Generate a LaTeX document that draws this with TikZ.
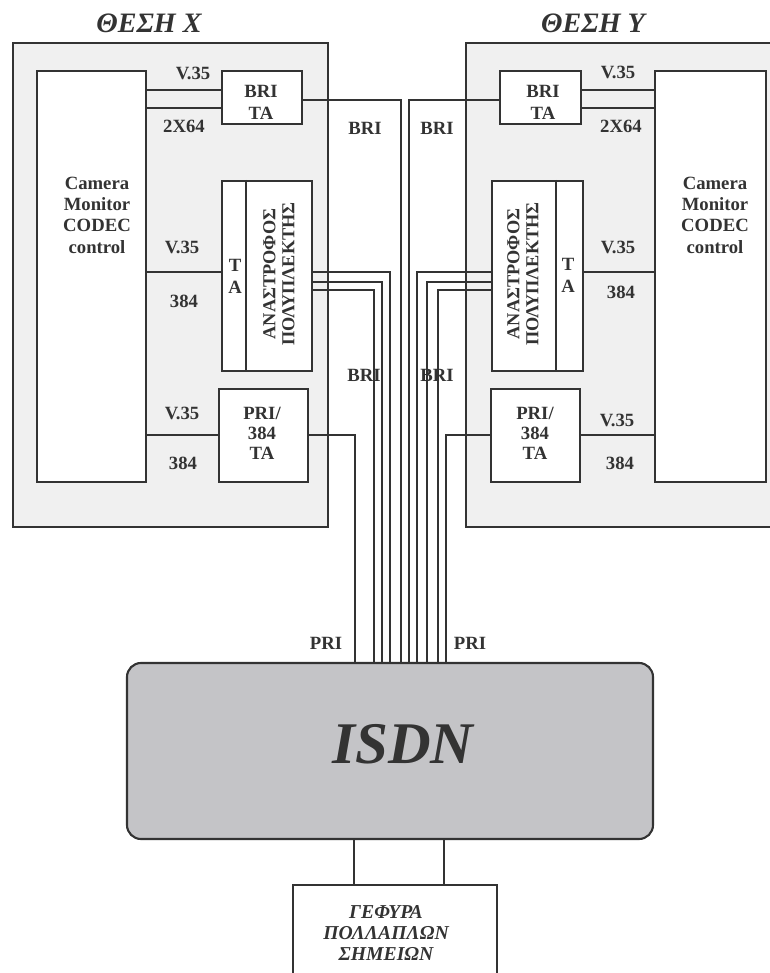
\documentclass[tikz,border=0pt]{standalone}
\usepackage{fontspec}
\setmainfont{Liberation Serif}
\usetikzlibrary{fit,positioning}
\definecolor{tinta}{rgb}{0.2,0.2,0.2}
\definecolor{grisfondo}{rgb}{0.94,0.94,0.94}
\definecolor{grisred}{rgb}{0.77,0.77,0.78}
\tikzset{
  sitio/.style={
    draw=tinta,
    line width=1.5pt,
    fill=grisfondo,
    inner sep=0pt
  },
  caja/.style={
    draw=tinta,
    line width=1.5pt,
    fill=white,
    inner sep=0pt
  },
  red/.style={
    draw=tinta,
    line width=1.5pt,
    fill=grisred,
    rounded corners=3.5mm,
    inner sep=0pt
  },
  texto/.style={
    inner sep=0pt,
    text=tinta,
    align=center,
    font=\fontsize{13.3}{15.2}\selectfont\bfseries
  },
  etiqueta/.style={
    inner sep=0pt,
    text=tinta,
    font=\fontsize{13.3}{14}\selectfont\bfseries
  },
  titulo/.style={
    inner sep=0pt,
    text=tinta,
    align=center,
    font=\fontsize{20}{24}\selectfont\bfseries\itshape
  },
  borde/.style={draw=tinta, line width=1.5pt},
  linea/.style={draw=tinta, line width=1.3pt}
}

\begin{document}
\begin{tikzpicture}[x=0.25mm, y=-0.25mm]
\useasboundingbox (0,0) rectangle (769,973);
% sitios
\node[titulo] (tX) at (149,23) {ΘΕΣΗ X};
\node[titulo] (tY) at (593,23) {ΘΕΣΗ Y};
\node[sitio, fit={(13,43) (328,527)}] (sX) {};
\node[sitio, fit={(466,43) (800,527)}] (sY) {};

% equipos en X
\node[caja, fit={(37,71) (146,482)}] (camX) {};
\node[texto] (camtX) at (97,215) {Camera\\Monitor\\CODEC\\control};
\node[caja, fit={(222,71) (302,124)}] (briX) {};
\node[texto, font=\fontsize{13.3}{15.5}\selectfont\bfseries] (britX) at (261,102) {BRI\\TA};
\node[caja, fit={(222,181) (312,371)}] (muxX) {};
\draw[borde] (muxX.north west) ++(25,0) -- ++(0,190);
\node[texto, font=\fontsize{13.3}{15.6}\selectfont\bfseries] (tatX) at (235,276) {T\\A};
\node[texto, rotate=90, font=\fontsize{13}{13.5}\selectfont\bfseries] (muxtX) at (279,274) {ΑΝΑΣΤΡΟΦΟΣ\\ΠΟΛΥΠΛΕΚΤΗΣ};
\node[caja, fit={(219,389) (308,482)}] (priX) {};
\node[texto, font=\fontsize{13.3}{14.2}\selectfont\bfseries] (pritX) at (262,433) {PRI/\\384\\TA};

% equipos en Y
\node[caja, fit={(655,71) (766,482)}] (camY) {};
\node[texto] (camtY) at (715,215) {Camera\\Monitor\\CODEC\\control};
\node[caja, fit={(500,71) (581,124)}] (briY) {};
\node[texto, font=\fontsize{13.3}{15.5}\selectfont\bfseries] (britY) at (543,102) {BRI\\TA};
\node[caja, fit={(492,181) (583,371)}] (muxY) {};
\draw[borde] (muxY.north east) ++(-28,0) -- ++(0,190);
\node[texto, font=\fontsize{13.3}{15.6}\selectfont\bfseries] (tatY) at (568,275) {T\\A};
\node[texto, rotate=90, font=\fontsize{13}{13.5}\selectfont\bfseries] (muxtY) at (523,274) {ΑΝΑΣΤΡΟΦΟΣ\\ΠΟΛΥΠΛΕΚΤΗΣ};
\node[caja, fit={(491,389) (580,482)}] (priY) {};
\node[texto, font=\fontsize{13.3}{14.2}\selectfont\bfseries] (pritY) at (535,433) {PRI/\\384\\TA};

% red y puente
\node[red, fit={(127,663) (653,839)}] (isdn) {};
\node[titulo, font=\fontsize{42}{48}\selectfont\bfseries\itshape] (isdnt) at (403,744) {ISDN};
\node[caja, fit={(293,885) (497,990)}] (puente) {};
\node[titulo, font=\fontsize{14}{15}\selectfont\bfseries\itshape] (puentet) at (386,933) {ΓΕΦΥΡΑ\\ΠΟΛΛΑΠΛΩΝ\\ΣΗΜΕΙΩΝ};

% etiquetas
\node[etiqueta] (vaX) at (193,73) {V.35};
\node[etiqueta] (vbX) at (184,126) {2X64};
\node[etiqueta] (vcX) at (182,247) {V.35};
\node[etiqueta] (vdX) at (184,301) {384};
\node[etiqueta] (veX) at (182,413) {V.35};
\node[etiqueta] (vfX) at (183,463) {384};
\node[etiqueta] (vaY) at (618,72) {V.35};
\node[etiqueta] (vbY) at (621,126) {2X64};
\node[etiqueta] (vcY) at (618,247) {V.35};
\node[etiqueta] (vdY) at (621,292) {384};
\node[etiqueta] (veY) at (617,420) {V.35};
\node[etiqueta] (vfY) at (620,463) {384};
\node[etiqueta] (bA) at (365,128) {BRI};
\node[etiqueta] (bB) at (437,128) {BRI};
\node[etiqueta] (bC) at (364,375) {BRI};
\node[etiqueta] (bD) at (437,375) {BRI};
\node[etiqueta] (pA) at (326,643) {PRI};
\node[etiqueta] (pB) at (470,643) {PRI};

% enlaces en X
\draw[linea] (camX.east |- 0,90) -- (briX.west |- 0,90);
\draw[linea] (camX.east |- 0,108) -- (briX.west |- 0,108);
\draw[linea] (camX.east |- 0,272) -- (muxX.west |- 0,272);
\draw[linea] (camX.east |- 0,435) -- (priX.west |- 0,435);
\draw[linea] (briX.east |- 0,100) -| (isdn.north -| 401,0);
\foreach \yy/\xx in {272/390, 282/382, 290/374}
  \draw[linea] (muxX.east |- 0,\yy) -| (isdn.north -| \xx,0);
\draw[linea] (priX.east |- 0,435) -| (isdn.north -| 355,0);

% enlaces en Y
\draw[linea] (camY.west |- 0,90) -- (briY.east |- 0,90);
\draw[linea] (camY.west |- 0,108) -- (briY.east |- 0,108);
\draw[linea] (camY.west |- 0,272) -- (muxY.east |- 0,272);
\draw[linea] (camY.west |- 0,435) -- (priY.east |- 0,435);
\draw[linea] (briY.west |- 0,100) -| (isdn.north -| 409,0);
\foreach \yy/\xx in {272/417, 282/427, 290/438}
  \draw[linea] (muxY.west |- 0,\yy) -| (isdn.north -| \xx,0);
\draw[linea] (priY.west |- 0,435) -| (isdn.north -| 446,0);

% red al puente
\draw[linea] (isdn.south -| 354,0) -- (puente.north -| 354,0);
\draw[linea] (isdn.south -| 444,0) -- (puente.north -| 444,0);
\end{tikzpicture}
\end{document}
